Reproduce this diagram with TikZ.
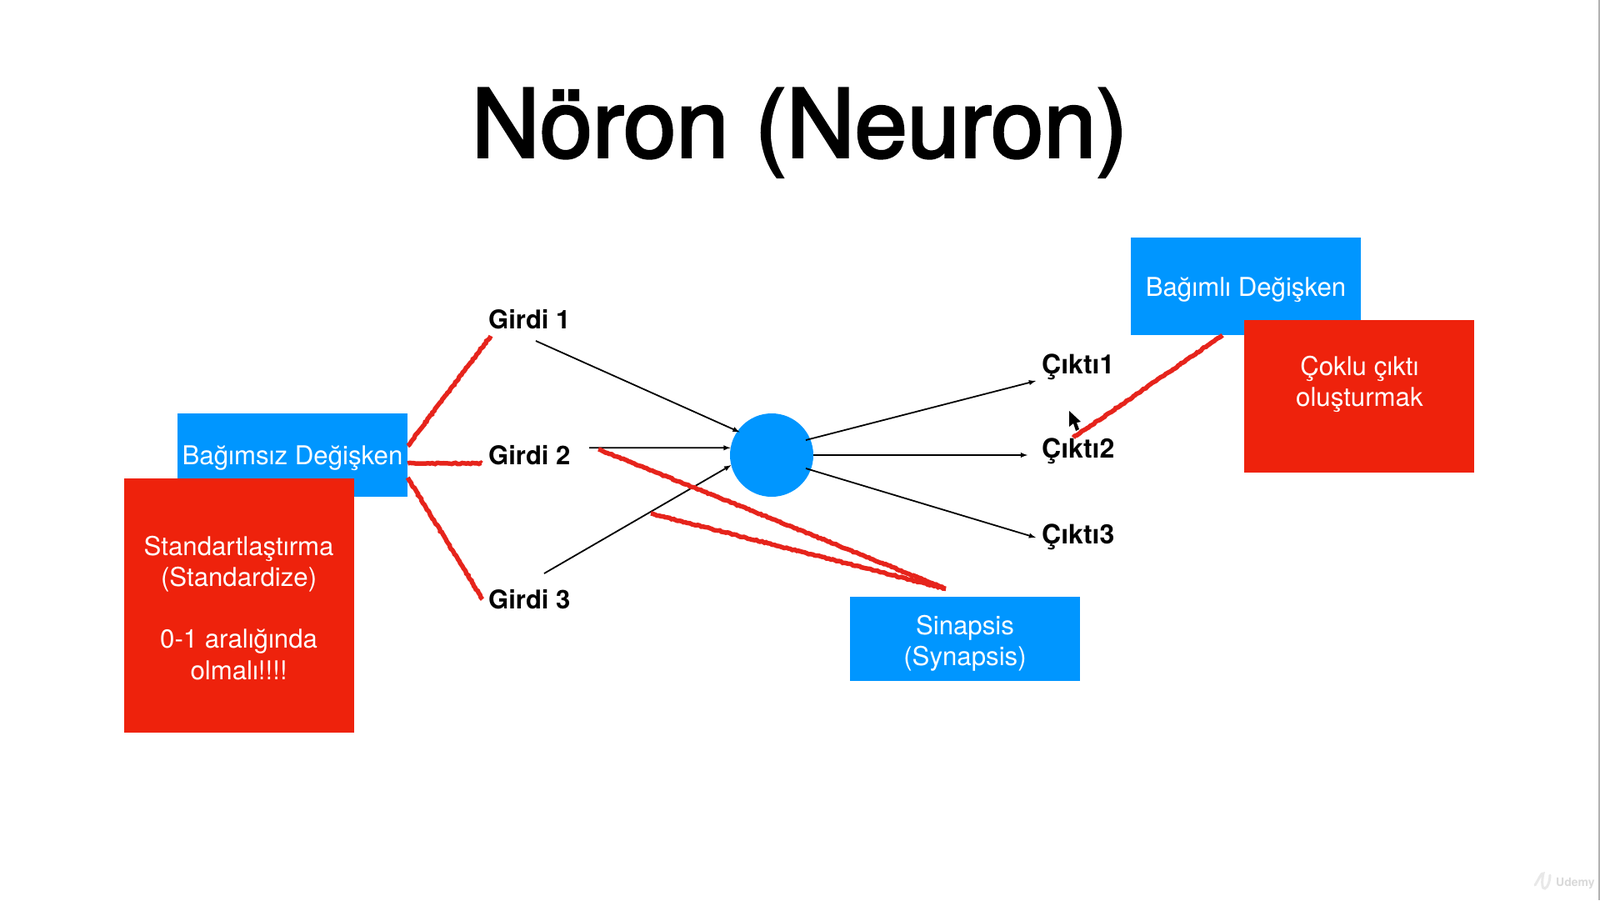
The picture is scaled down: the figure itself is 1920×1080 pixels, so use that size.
\documentclass[tikz,border=0pt]{standalone}
\usepackage{fontspec}
\setmainfont{TeX Gyre Heros}
\newfontfamily\titlefont[FakeBold=2.6]{TeX Gyre Heros}
\usetikzlibrary{arrows,positioning,decorations.pathmorphing}
\definecolor{boxblue}{HTML}{0096FF}
\definecolor{boxred}{HTML}{EE220C}
\definecolor{penred}{HTML}{E6241C}

\begin{document}
\begin{tikzpicture}[x=1pt,y=-1pt,>=latex]
	\tikzstyle{boxtext}=[text=white, align=center, inner sep=0pt, font=\fontsize{31.2}{37.3}\selectfont, execute at begin node={\rule{0pt}{31pt}}]
	\tikzstyle{bluebox}=[boxtext, rectangle, fill=boxblue, minimum width=276pt]
	\tikzstyle{redbox}=[boxtext, rectangle, fill=boxred, minimum width=276pt]
	\tikzstyle{io}=[anchor=base west, inner sep=0pt, font=\fontsize{31}{37}\selectfont\bfseries]
	\tikzstyle{ioout}=[io, font=\fontsize{32}{37}\selectfont\bfseries]
	\tikzstyle{syn}=[->, line width=1.8pt]
	\tikzstyle{pen}=[penred, line width=5.5pt, decorate, decoration={random steps, segment length=2.5pt, amplitude=0.7pt}]

	\useasboundingbox (0,0) rectangle (1920,1080);
	\fill[gray!60] (1918,0) rectangle (1920,1080);

	\node[anchor=base, inner sep=0pt, font=\fontsize{113.5}{120}\titlefont] (title) at (959.5,188.5) {Nöron (Neuron)};

	\node[bluebox, minimum height=100pt] (indep) at (351,546) {Bağımsız Değişken};
	\node[redbox, minimum height=305pt] (std) [below left=-22pt and -212pt of indep] {\rule{0pt}{28pt}Standartlaştırma\\(Standardize)\\[37.3pt]0-1 aralığında\\olmalı!!!!};
	\node[bluebox, minimum height=117pt] (dep) at (1495,343.5) {Bağımlı Değişken};
	\node[redbox, minimum height=183pt] (multi) [below right=-18pt and -140pt of dep] {Çoklu çıktı\\oluşturmak\\\mbox{}};
	\node[bluebox, minimum height=101pt] (syn) at (1158,766) {\rule{0pt}{35pt}Sinapsis\\(Synapsis)};

	\node[io] (in1) at (586,394) {Girdi 1};
	\node[io] (in2) at (586,557) {Girdi 2};
	\node[io] (in3) at (586,730) {Girdi 3};

	\node[ioout] (out1) at (1250,448) {Çıktı1};
	\node[ioout] (out2) at (1250,549) {Çıktı2};
	\node[ioout] (out3) at (1250,652) {Çıktı3};

	\node[circle, fill=boxblue, minimum size=100pt, inner sep=0pt] (neuron) at (926,546) {};

	\coordinate[shift={(57,15)}] (a1) at (in1.base west);
	\coordinate[shift={(121,-19.7)}] (a2) at (in2.base west);
	\coordinate[shift={(67,-42)}] (a3) at (in3.base west);
	\draw[syn, shorten >=-3pt] (a1) -- (neuron.145);
	\draw[syn] (a2) -- (neuron.170);
	\draw[syn] (a3) -- (neuron.194);

	\coordinate[shift={(41,-18)}] (b1) at (neuron.center);
	\coordinate[shift={(41,16)}] (b3) at (neuron.center);
	\coordinate[shift={(-7,9)}] (c1) at (out1.base west);
	\coordinate[shift={(-17,-3)}] (c2) at (out2.base west);
	\coordinate[shift={(-7,-7)}] (c3) at (out3.base west);
	\draw[syn] (b1) -- (c1);
	\draw[syn] (neuron.east) -- (c2);
	\draw[syn] (b3) -- (c3);

	\coordinate[shift={(0,-11)}] (r1) at (indep.east);
	\coordinate[shift={(0,10)}] (r2) at (indep.east);
	\coordinate[shift={(0,27)}] (r3) at (indep.east);
	\coordinate[shift={(3,9)}] (s1) at (in1.base west);
	\coordinate[shift={(-8,-1)}] (s2) at (in2.base west);
	\coordinate[shift={(-7,-11)}] (s3) at (in3.base west);
	\draw[pen] (r1) -- (s1);
	\draw[pen] (r2) -- (s2);
	\draw[pen] (r3) -- (s3);

	\coordinate[shift={(-23,-9)}] (t) at (syn.north);
	\coordinate[shift={(132,-18)}] (u1) at (in2.base west);
	\coordinate[shift={(195,-114)}] (u2) at (in3.base west);
	\draw[pen] (t) -- (u1);
	\draw[pen] (t) -- (u2);

	\coordinate[shift={(38,-24)}] (v1) at (out2.base west);
	\coordinate[shift={(-28,0)}] (v2) at (dep.south);
	\draw[pen] (v1) -- (v2);

	% cursor
	\fill (1283,493) -- (1283,512) -- (1288,508) -- (1291,517) -- (1295,515) -- (1292,507) -- (1297,506) -- cycle;

	% watermark
	\draw[gray!18, line width=3pt, line cap=round] (1842,1062) .. controls (1846,1056) and (1850,1046) .. (1852,1048) .. controls (1850,1056) and (1850,1068) .. (1854,1066) .. controls (1858,1064) and (1860,1056) .. (1860,1050);
	\node[anchor=base west, inner sep=0pt, text=gray!30, font=\fontsize{14}{16}\selectfont\bfseries] (mark) at (1867,1063) {Udemy};
\end{tikzpicture}
\end{document}
